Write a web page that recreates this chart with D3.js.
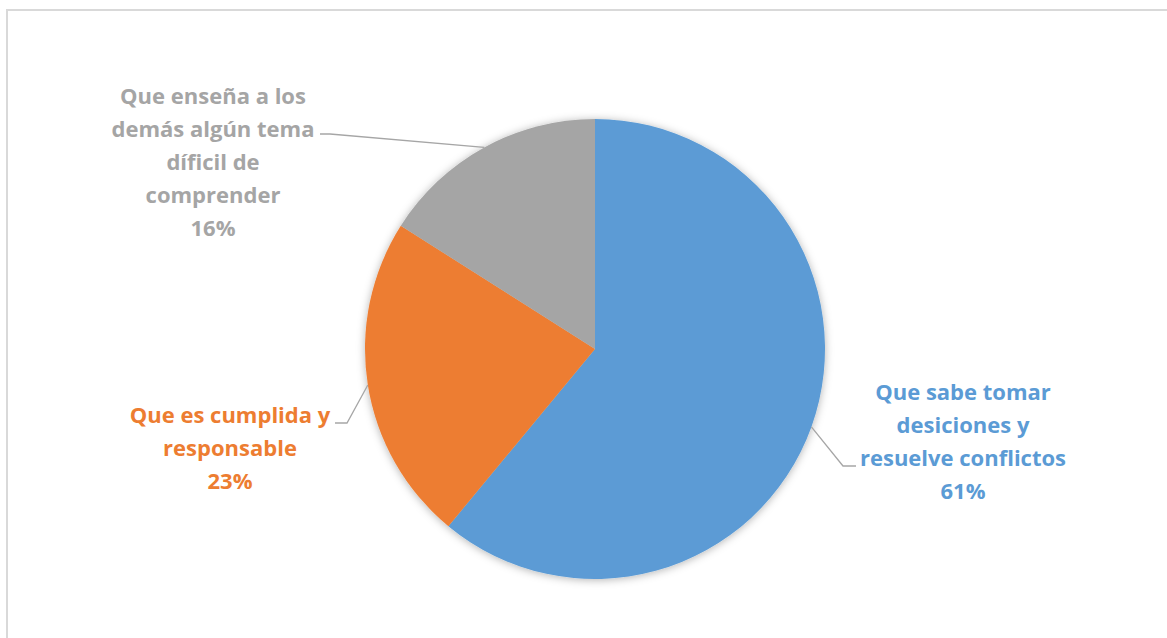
<!DOCTYPE html>
<html>
<head>
<meta charset="utf-8">
<script src="https://cdn.jsdelivr.net/npm/d3@7"></script>
<style>
  body { margin: 0; background: #fff; }
  .label { font-family: "Open Sans", Lato, sans-serif; font-weight: bold; font-size: 22px; }
</style>
</head>
<body>
<div class="chart"></div>
<script>
// Chart data
var categories = [
  ["Que sabe tomar", "desiciones y", "resuelve conflictos"],
  ["Que es cumplida y", "responsable"],
  ["Que enseña a los", "demás algún tema", "díficil de", "comprender"]
];
var values = [61, 23, 16];
var colors = ["#5B9BD5", "#ED7D31", "#A5A5A5"];

// Where each label block sits (center x, first line y) and where its leader line ends
var labelLayout = [
  { x: 963, y: 400, lineEnd: [856, 466], knee: [843, 466] },
  { x: 230, y: 423, lineEnd: [335, 423], knee: [347, 423] },
  { x: 213, y: 104, lineEnd: [320, 134], knee: [330, 134] }
];

var svgWidth = 1167;
var svgHeight = 638;
var cx = 595, cy = 349, radius = 230;
var lineHeight = 33;

var svg = d3.select(".chart")
  .append("svg")
  .attr("width", svgWidth)
  .attr("height", svgHeight);

// soft shadow under the pie
var defs = svg.append("defs");
defs.append("filter")
  .attr("id", "shadow")
  .attr("x", "-10%").attr("y", "-10%")
  .attr("width", "120%").attr("height", "120%")
  .append("feDropShadow")
  .attr("dx", 0).attr("dy", 1)
  .attr("stdDeviation", 4)
  .attr("flood-color", "#000")
  .attr("flood-opacity", 0.3);

// chart area border
svg.append("rect")
  .attr("x", 7).attr("y", 10)
  .attr("width", svgWidth + 10).attr("height", svgHeight + 10)
  .attr("fill", "none")
  .attr("stroke", "#d9d9d9")
  .attr("stroke-width", 2);

var pie = d3.pie().sort(null).value(function(d) { return d; });
var arcs = pie(values);

var arc = d3.arc().innerRadius(0).outerRadius(radius);
var edgeArc = d3.arc().innerRadius(radius).outerRadius(radius);

var chart = svg.append("g")
  .attr("transform", "translate(" + cx + "," + cy + ")");

chart.append("g")
  .attr("filter", "url(#shadow)")
  .selectAll("path")
  .data(arcs)
  .enter()
  .append("path")
  .attr("d", arc)
  .attr("fill", function(d, i) { return colors[i]; });

// leader lines
chart.selectAll("polyline")
  .data(arcs)
  .enter()
  .append("polyline")
  .attr("fill", "none")
  .attr("stroke", "#a6a6a6")
  .attr("stroke-width", 1.3)
  .attr("points", function(d, i) {
    var p = edgeArc.centroid(d);
    var L = labelLayout[i];
    return [
      [p[0], p[1]],
      [L.knee[0] - cx, L.knee[1] - cy],
      [L.lineEnd[0] - cx, L.lineEnd[1] - cy]
    ].map(function(q) { return q.join(","); }).join(" ");
  });

// labels
arcs.forEach(function(d, i) {
  var L = labelLayout[i];
  var lines = categories[i].concat([values[i] + "%"]);
  var text = svg.append("text")
    .attr("class", "label")
    .attr("text-anchor", "middle")
    .attr("fill", colors[i]);
  lines.forEach(function(line, j) {
    text.append("tspan")
      .attr("x", L.x)
      .attr("y", L.y + j * lineHeight)
      .text(line);
  });
});
</script>
</body>
</html>
